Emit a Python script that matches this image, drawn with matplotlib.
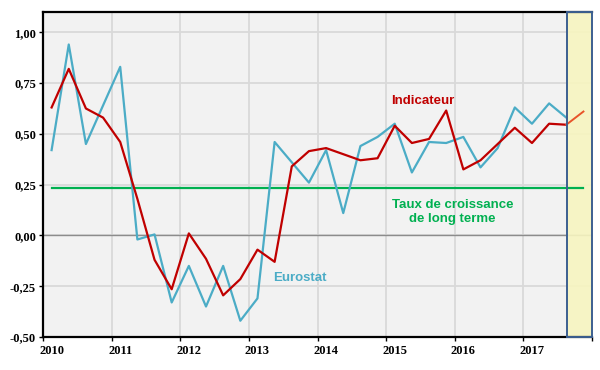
import matplotlib.pyplot as plt
import matplotlib.patches as mpatches
import numpy as np

# quarterly data, 2010Q1 onwards
eurostat = [0.42, 0.94, 0.45, 0.64, 0.83, -0.02, 0.005, -0.33, -0.15, -0.35,
            -0.15, -0.42, -0.31, 0.46, 0.36, 0.26, 0.42, 0.11, 0.44, 0.485,
            0.55, 0.31, 0.46, 0.455, 0.485, 0.335, 0.43, 0.63, 0.55, 0.65, 0.58]
indicateur = [0.63, 0.82, 0.625, 0.58, 0.46, 0.18, -0.12, -0.265, 0.01, -0.115,
              -0.295, -0.215, -0.07, -0.13, 0.34, 0.415, 0.43, 0.40, 0.37, 0.38,
              0.54, 0.455, 0.475, 0.615, 0.325, 0.37, 0.45, 0.53, 0.455, 0.55,
              0.545, 0.61]
long_terme = 0.235
years = [2010, 2011, 2012, 2013, 2014, 2015, 2016, 2017]
yticks = [-0.50, -0.25, 0.00, 0.25, 0.50, 0.75, 1.00]

x_eu = 2010.125 + 0.25 * np.arange(len(eurostat))
x_ind = 2010.125 + 0.25 * np.arange(len(indicateur))

fig = plt.figure(figsize=(6, 3.7), dpi=100)
ax = fig.add_axes([0.0717, 0.0892, 0.915, 0.8784])
ax.set_facecolor('#f2f2f2')
ax.set_xlim(2010, 2018)
ax.set_ylim(-0.5, 1.1)

# grid
ax.set_axisbelow(True)
ax.set_xticks(range(2010, 2019))
ax.set_xticklabels([])
ax.set_xticks([y + 0.125 for y in years], minor=True)
ax.set_xticklabels([str(y) for y in years], minor=True)
ax.set_yticks(yticks)
ax.set_yticklabels([f"{v:.2f}".replace('.', ',') for v in yticks])
ax.grid(True, which='major', color='#d9d9d9', lw=1.3)
ax.axhline(0, color='#8c8c8c', lw=1, zorder=1)

ax.tick_params(axis='x', which='major', length=3, width=1, direction='out')
ax.tick_params(axis='x', which='minor', length=0, pad=6)
ax.tick_params(axis='y', length=3, width=1, direction='out', pad=2)
for lab in ax.get_xticklabels(minor=True) + ax.get_yticklabels():
    lab.set_fontfamily('Liberation Serif')
    lab.set_fontweight('bold')
    lab.set_fontsize(9)

for s in ['left', 'bottom', 'top']:
    ax.spines[s].set_linewidth(1.6)
    ax.spines[s].set_color('black')
ax.spines['right'].set_visible(False)

# forecast zone
ax.axvspan(2017.64, 2018, facecolor='#f7f5c0', alpha=0.9, zorder=1.5)
rect = mpatches.Rectangle((2017.64, -0.5), 2018 - 2017.64, 1.6,
                          transform=ax.transData, fill=False,
                          edgecolor='#3c5f90', lw=1.4, zorder=6, clip_on=False)
ax.add_patch(rect)

ax.plot([x_ind[0], x_ind[-1]], [long_terme, long_terme], color='#00b050', lw=1.6, zorder=3)
ax.plot(x_eu, eurostat, color='#4bacc6', lw=1.6, zorder=4)
ax.plot(x_ind[:-1], indicateur[:-1], color='#c00000', lw=1.6, zorder=5)
ax.plot(x_ind[-2:], indicateur[-2:], color='#e8542a', lw=1.4, zorder=5)

lab_font = dict(family='Liberation Sans', fontweight='bold', fontsize=9.5)
ax.text(2015.53, 0.66, 'Indicateur', color='#c00000', ha='center', va='center', **lab_font)
ax.text(2013.75, -0.21, 'Eurostat', color='#4bacc6', ha='center', va='center', **lab_font)
ax.text(2015.97, 0.115, 'Taux de croissance\nde long terme', color='#00b050',
        ha='center', va='center', linespacing=1.2, **lab_font)

fig.savefig('out.png', dpi=100)
